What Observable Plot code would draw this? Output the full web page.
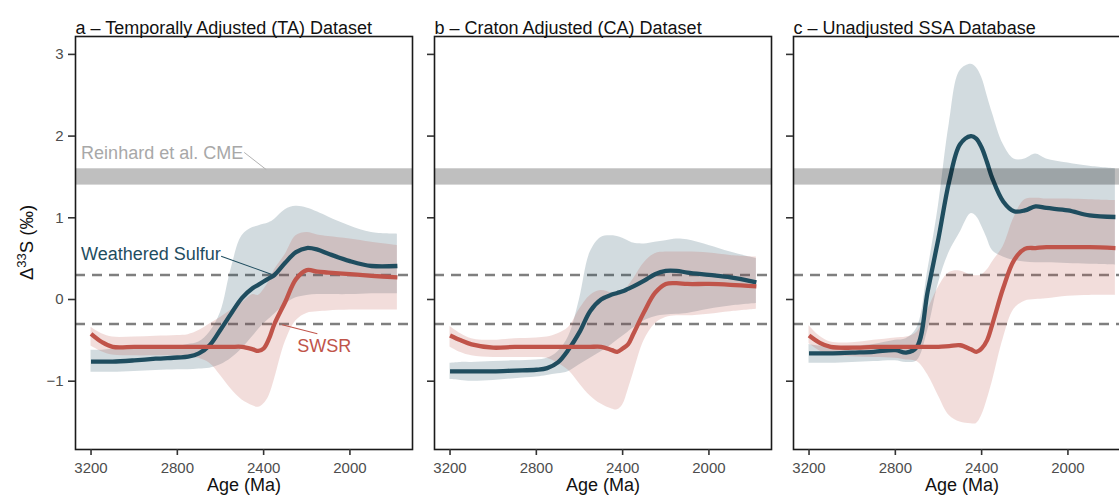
<!DOCTYPE html>
<html><head><meta charset="utf-8">
<script src="https://cdn.jsdelivr.net/npm/d3@7"></script>
<script src="https://cdn.jsdelivr.net/npm/@observablehq/plot@0.6"></script>
<style>
html,body{margin:0;padding:0;background:#fff;overflow:hidden;}
#fig{position:relative;width:1119px;height:499px;overflow:hidden;background:#fff;}
#fig svg{position:absolute;top:0;}
</style></head><body><div id="fig"></div>
<script>
// ---- data ----
const ages = [3200, 3150, 3100, 3000, 2900, 2800, 2750, 2700, 2650, 2600, 2550, 2500, 2450, 2425, 2400, 2375, 2350, 2300, 2250, 2200, 2150, 2100, 2000, 1900, 1780];

const panelTitles = ["a – Temporally Adjusted (TA) Dataset", "b – Craton Adjusted (CA) Dataset", "c – Unadjusted SSA Database"];

// a: TA dataset
const taWeathered   = [-0.76, -0.76, -0.76, -0.745, -0.725, -0.71, -0.70, -0.66, -0.56, -0.37, -0.17, 0.02, 0.14, 0.18, 0.22, 0.26, 0.30, 0.45, 0.58, 0.63, 0.61, 0.56, 0.47, 0.41, 0.41];
const taWeatheredHi = [-0.62, -0.62, -0.61, -0.60, -0.59, -0.57, -0.55, -0.52, -0.40, -0.16, 0.38, 0.78, 0.88, 0.90, 0.92, 0.94, 0.98, 1.10, 1.14, 1.12, 1.07, 1.01, 0.90, 0.82, 0.80];
const taWeatheredLo = [-0.89, -0.89, -0.89, -0.88, -0.87, -0.86, -0.86, -0.85, -0.84, -0.80, -0.72, -0.60, -0.45, -0.37, -0.30, -0.24, -0.18, -0.06, 0.02, 0.05, 0.06, 0.06, 0.06, 0.07, 0.07];
const taSwsr        = [-0.42, -0.52, -0.58, -0.58, -0.58, -0.58, -0.58, -0.58, -0.58, -0.58, -0.58, -0.58, -0.61, -0.63, -0.60, -0.48, -0.30, -0.03, 0.25, 0.36, 0.34, 0.33, 0.31, 0.29, 0.27];
const taSwsrHi      = [-0.34, -0.42, -0.46, -0.46, -0.45, -0.44, -0.43, -0.38, -0.30, -0.22, -0.13, -0.04, 0.06, 0.05, 0.12, 0.22, 0.36, 0.55, 0.78, 0.82, 0.79, 0.77, 0.74, 0.70, 0.66];
const taSwsrLo      = [-0.57, -0.64, -0.68, -0.69, -0.69, -0.69, -0.70, -0.72, -0.78, -0.93, -1.10, -1.23, -1.30, -1.32, -1.28, -1.18, -0.98, -0.52, -0.26, -0.17, -0.15, -0.14, -0.13, -0.13, -0.13];

// b: CA dataset
const caWeathered   = [-0.88, -0.88, -0.88, -0.88, -0.87, -0.86, -0.84, -0.77, -0.61, -0.40, -0.14, 0.0, 0.06, 0.08, 0.10, 0.13, 0.16, 0.23, 0.31, 0.35, 0.35, 0.33, 0.30, 0.27, 0.21];
const caWeatheredHi = [-0.78, -0.77, -0.77, -0.76, -0.75, -0.74, -0.72, -0.64, -0.45, 0.0, 0.58, 0.76, 0.78, 0.77, 0.75, 0.72, 0.69, 0.68, 0.70, 0.72, 0.74, 0.73, 0.66, 0.58, 0.50];
const caWeatheredLo = [-0.98, -0.99, -1.0, -0.99, -0.97, -0.95, -0.93, -0.91, -0.88, -0.80, -0.72, -0.64, -0.55, -0.50, -0.45, -0.40, -0.35, -0.26, -0.21, -0.19, -0.18, -0.17, -0.12, -0.08, -0.05];
const caSwsr        = [-0.44, -0.50, -0.55, -0.59, -0.58, -0.58, -0.58, -0.58, -0.58, -0.58, -0.58, -0.58, -0.62, -0.64, -0.60, -0.55, -0.42, -0.15, 0.08, 0.19, 0.20, 0.19, 0.19, 0.18, 0.16];
const caSwsrHi      = [-0.33, -0.42, -0.48, -0.50, -0.48, -0.47, -0.46, -0.42, -0.34, -0.12, 0.05, 0.11, 0.08, 0.07, 0.10, 0.16, 0.25, 0.45, 0.56, 0.58, 0.58, 0.58, 0.57, 0.54, 0.52];
const caSwsrLo      = [-0.58, -0.65, -0.69, -0.71, -0.71, -0.71, -0.72, -0.78, -0.87, -1.03, -1.18, -1.28, -1.34, -1.35, -1.29, -1.11, -0.90, -0.50, -0.30, -0.22, -0.20, -0.20, -0.18, -0.15, -0.12];

// c: unadjusted SSA database
const ssaWeathered   = [-0.66, -0.66, -0.66, -0.65, -0.64, -0.62, -0.65, -0.58, 0.10, 0.75, 1.45, 1.90, 2.0, 1.97, 1.86, 1.68, 1.48, 1.20, 1.08, 1.09, 1.14, 1.12, 1.09, 1.03, 1.01];
const ssaWeatheredHi = [-0.55, -0.57, -0.58, -0.57, -0.55, -0.50, -0.48, -0.35, 0.35, 1.15, 2.15, 2.80, 2.88, 2.84, 2.72, 2.50, 2.28, 1.90, 1.72, 1.72, 1.78, 1.72, 1.67, 1.63, 1.60];
const ssaWeatheredLo = [-0.78, -0.78, -0.78, -0.77, -0.76, -0.75, -0.77, -0.75, -0.38, 0.20, 0.58, 0.82, 1.05, 1.02, 0.90, 0.75, 0.60, 0.52, 0.48, 0.46, 0.45, 0.45, 0.44, 0.43, 0.42];
const ssaSwsr        = [-0.44, -0.53, -0.58, -0.59, -0.58, -0.58, -0.58, -0.58, -0.58, -0.58, -0.57, -0.56, -0.61, -0.64, -0.60, -0.50, -0.30, 0.14, 0.48, 0.62, 0.63, 0.64, 0.64, 0.64, 0.63];
const ssaSwsrHi      = [-0.32, -0.45, -0.52, -0.53, -0.50, -0.47, -0.46, -0.40, -0.13, 0.15, 0.33, 0.35, 0.30, 0.29, 0.30, 0.36, 0.46, 0.65, 1.00, 1.22, 1.24, 1.23, 1.23, 1.22, 1.21];
const ssaSwsrLo      = [-0.54, -0.63, -0.68, -0.70, -0.71, -0.72, -0.74, -0.76, -0.92, -1.18, -1.42, -1.50, -1.52, -1.52, -1.42, -1.23, -1.00, -0.48, -0.12, -0.02, 0.0, 0.01, 0.04, 0.05, 0.05];

const dashLevels = [-0.3, 0.3];
const cmeRange = [1.4, 1.6];
const xTicks = [3200, 2800, 2400, 2000];
const yTicks = [-1, 0, 1, 2, 3];

// ---- layout / style ----
const FONT = '"Liberation Sans", Arial, Helvetica, sans-serif';
const BLUE = "#1f4d5f", RED = "#c0544a";
const xDomain = [3272, 1710];
const yDomain = [-1.836, 3.219];
const curve = "catmull-rom";

function rows(mid, lo, hi) {
  return ages.map((age, i) => ({age, mid: mid[i], lo: lo[i], hi: hi[i]}));
}

const panels = [
  {title: panelTitles[0], ws: rows(taWeathered, taWeatheredLo, taWeatheredHi), sw: rows(taSwsr, taSwsrLo, taSwsrHi), left: 0, ml: 75, labels: true, notes: true},
  {title: panelTitles[1], ws: rows(caWeathered, caWeatheredLo, caWeatheredHi), sw: rows(caSwsr, caSwsrLo, caSwsrHi), left: 414, ml: 20, labels: false, notes: false},
  {title: panelTitles[2], ws: rows(ssaWeathered, ssaWeatheredLo, ssaWeatheredHi), sw: rows(ssaSwsr, ssaSwsrLo, ssaSwsrHi), left: 773, ml: 20, labels: false, notes: false}
];

const fig = document.getElementById("fig");

for (const p of panels) {
  const marks = [
    Plot.ruleY(dashLevels, {stroke: "#7f7f7f", strokeWidth: 2.4, strokeDasharray: "10,7"}),
    Plot.areaY(p.ws, {x: "age", y1: "lo", y2: "hi", fill: BLUE, fillOpacity: 0.2, curve}),
    Plot.areaY(p.sw, {x: "age", y1: "lo", y2: "hi", fill: RED, fillOpacity: 0.2, curve}),
    Plot.line(p.ws, {x: "age", y: "mid", stroke: BLUE, strokeWidth: 4.3, curve, strokeLinecap: "butt"}),
    Plot.line(p.sw, {x: "age", y: "mid", stroke: RED, strokeWidth: 4.3, curve, strokeLinecap: "butt"}),
    Plot.rect([cmeRange], {y1: d => d[0], y2: d => d[1], fill: "#000", fillOpacity: 0.25}),
    Plot.frame({stroke: "#1a1a1a", strokeWidth: 1.6}),
    Plot.axisX(xTicks, {tickSize: 6, tickPadding: 7, fontSize: "15px", fill: "#4d4d4d", stroke: "#333", strokeWidth: 1.6, label: null,
      tickFormat: d => String(d)}),
    Plot.axisY(yTicks, {tickSize: 7, tickPadding: 5, fontSize: "15px", fill: "#4d4d4d", stroke: "#333", strokeWidth: 1.6, label: null,
      tickFormat: p.labels ? (d => d < 0 ? "\u2212" + Math.abs(d) : String(d)) : (() => "")}),
    Plot.text([p.title], {frameAnchor: "top-left", dy: -15, text: d => d, textAnchor: "start", fontSize: 18, fill: "#111"}),
    Plot.text(["Age (Ma)"], {frameAnchor: "bottom", dy: 41, text: d => d, fontSize: 18, fill: "#111"})
  ];
  if (p.notes) {
    marks.push(
      Plot.link([{x1: 2490, y1: 1.80, x2: 2388, y2: 1.59}], {x1: "x1", y1: "y1", x2: "x2", y2: "y2", stroke: "#b3b3b3", strokeWidth: 1}),
      Plot.text([{x: 3246, y: 1.79}], {x: "x", y: "y", text: () => "Reinhard et al. CME", textAnchor: "start", fontSize: 18, fill: "#a8a8a8"}),
      Plot.link([{x1: 2597, y1: 0.53, x2: 2365, y2: 0.31}], {x1: "x1", y1: "y1", x2: "x2", y2: "y2", stroke: BLUE, strokeWidth: 1.1}),
      Plot.text([{x: 3246, y: 0.56}], {x: "x", y: "y", text: () => "Weathered Sulfur", textAnchor: "start", fontSize: 18, fill: BLUE}),
      Plot.link([{x1: 2314, y1: -0.31, x2: 2151, y2: -0.42}], {x1: "x1", y1: "y1", x2: "x2", y2: "y2", stroke: RED, strokeWidth: 1.1}),
      Plot.text([{x: 2244, y: -0.57}], {x: "x", y: "y", text: () => "SWSR", textAnchor: "start", fontSize: 18, fill: RED})
    );
  }
  const chart = Plot.plot({
    width: p.ml + 337 + 8,
    height: 499,
    marginLeft: p.ml,
    marginRight: 8,
    marginTop: 36,
    marginBottom: 50,
    x: {domain: xDomain},
    y: {domain: yDomain},
    style: {fontFamily: FONT, fontSize: "15px", background: "transparent", overflow: "visible"},
    marks
  });
  chart.style.left = p.left + "px";
  if (p.labels) {
    const t = d3.select(chart).append("text")
      .attr("transform", "translate(33,242.5) rotate(-90)")
      .attr("text-anchor", "middle")
      .attr("font-family", FONT)
      .attr("font-size", 18.5)
      .attr("fill", "#111");
    t.append("tspan").text("\u0394");
    t.append("tspan").attr("dy", -7.5).attr("font-size", 13).text("33");
    t.append("tspan").attr("dy", 7.5).text("S (\u2030)");
  }
  fig.appendChild(chart);
}
</script></body></html>
